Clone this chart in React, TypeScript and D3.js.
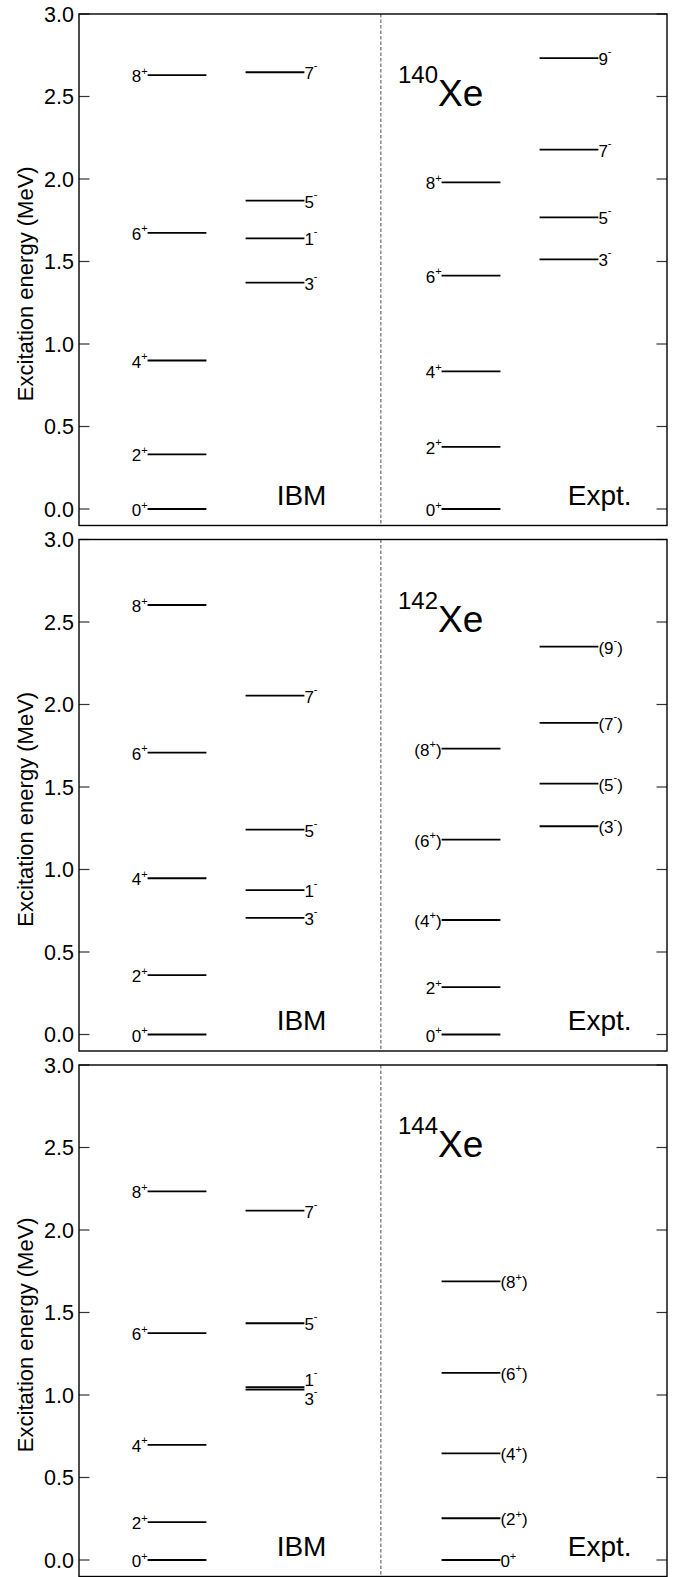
import React from "react";
import * as d3 from "d3";

const W = 678;
const H = 1577;

// ---------- data ----------
const massNumbers = ["140", "142", "144"];

const ibmPosSpins = ["0", "2", "4", "6", "8"];
const ibmNegSpins = ["1", "3", "5", "7"];
const expPosSpins = ["0", "2", "4", "6", "8"];
const expNegSpins = ["3", "5", "7", "9"];

// 140Xe
const ibmPosE140 = [0, 0.331, 0.9, 1.674, 2.629];
const ibmNegE140 = [1.64, 1.372, 1.869, 2.647];
const expPosE140 = [0, 0.377, 0.834, 1.414, 1.979];
const expNegE140 = [1.513, 1.767, 2.178, 2.732];
const expPosTent140 = [false, false, false, false, false];
const expNegTent140 = [false, false, false, false];

// 142Xe
const ibmPosE142 = [0, 0.36, 0.947, 1.708, 2.603];
const ibmNegE142 = [0.875, 0.707, 1.242, 2.054];
const expPosE142 = [0, 0.287, 0.694, 1.181, 1.732];
const expNegE142 = [1.262, 1.52, 1.889, 2.351];
const expPosTent142 = [false, false, true, true, true];
const expNegTent142 = [true, true, true, true];

// 144Xe
const ibmPosE144 = [0, 0.23, 0.698, 1.375, 2.234];
const ibmNegE144 = [1.047, 1.033, 1.435, 2.117];
const expPosE144 = [0, 0.253, 0.646, 1.134, 1.689];
const expNegE144: number[] = [];
const expPosTent144 = [false, true, true, true, true];
const expNegTent144: boolean[] = [];

const yTicks = [0, 0.5, 1.0, 1.5, 2.0, 2.5, 3.0];

type Level = { e: number; spin: string; parity: string; tent: boolean };

function build(es: number[], spins: string[], parity: string, tent?: boolean[]): Level[] {
  return es.map((e, i) => ({ e, spin: spins[i], parity, tent: tent ? tent[i] : false }));
}

const panels = [
  {
    mass: massNumbers[0],
    ibmPos: build(ibmPosE140, ibmPosSpins, "+"),
    ibmNeg: build(ibmNegE140, ibmNegSpins, "-"),
    expPos: build(expPosE140, expPosSpins, "+", expPosTent140),
    expNeg: build(expNegE140, expNegSpins, "-", expNegTent140),
    expPosRight: false,
  },
  {
    mass: massNumbers[1],
    ibmPos: build(ibmPosE142, ibmPosSpins, "+"),
    ibmNeg: build(ibmNegE142, ibmNegSpins, "-"),
    expPos: build(expPosE142, expPosSpins, "+", expPosTent142),
    expNeg: build(expNegE142, expNegSpins, "-", expNegTent142),
    expPosRight: false,
  },
  {
    mass: massNumbers[2],
    ibmPos: build(ibmPosE144, ibmPosSpins, "+"),
    ibmNeg: build(ibmNegE144, ibmNegSpins, "-"),
    expPos: build(expPosE144, expPosSpins, "+", expPosTent144),
    expNeg: build(expNegE144, expNegSpins, "-", expNegTent144),
    expPosRight: true,
  },
];

// ---------- layout ----------
const FONT = "'Liberation Sans', Arial, Helvetica, sans-serif";
const left = 79;
const right = 667;
const panelH = 511.5;
const panelPitch = 525.5;
const firstTop = 14;
const x = d3.scaleLinear().domain([0, 6]).range([left, right]);
const halfW = 0.3;

function LevelLabel({ lx, ly, anchor, lv, shift = 0 }: { lx: number; ly: number; anchor: string; lv: Level; shift?: number }) {
  const supDy = lv.parity === "+" ? -7.5 : -10;
  return (
    <text x={lx} y={ly + 7 + shift} textAnchor={anchor} fontSize={17} fontFamily={FONT} fill="#000">
      {lv.tent ? "(" : ""}
      {lv.spin}
      <tspan fontSize={11} dy={supDy}>{lv.parity}</tspan>
      {lv.tent ? <tspan dy={-supDy}>)</tspan> : null}
    </text>
  );
}

function Panel({ p, idx }: { p: (typeof panels)[number]; idx: number }) {
  const top = firstTop + idx * panelPitch;
  const y = d3.scaleLinear().domain([-0.1, 3.0]).range([top + panelH, top]);
  const fmt = d3.format(".1f");

  const cols: { levels: Level[]; cx: number; side: "left" | "right" }[] = [
    { levels: p.ibmPos, cx: 1, side: "left" },
    { levels: p.ibmNeg, cx: 2, side: "right" },
    { levels: p.expPos, cx: 4, side: p.expPosRight ? "right" : "left" },
    { levels: p.expNeg, cx: 5, side: "right" },
  ];

  return (
    <g>
      {/* dashed separator */}
      <line x1={x(3.08)} x2={x(3.08)} y1={top} y2={top + panelH} stroke="#777" strokeWidth={1.3} strokeDasharray="3.5,2" />
      {/* ticks */}
      {yTicks.map((t) => (
        <g key={t}>
          <line x1={left} x2={left + 10.5} y1={y(t)} y2={y(t)} stroke="#333" strokeWidth={1.2} />
          <line x1={right - 10.5} x2={right} y1={y(t)} y2={y(t)} stroke="#333" strokeWidth={1.2} />
          <text x={left - 5} y={y(t)} dy="0.36em" textAnchor="end" fontSize={21.5} fontFamily={FONT} fill="#000">
            {fmt(t)}
          </text>
        </g>
      ))}
      {/* frame */}
      <rect x={left} y={top} width={right - left} height={panelH} fill="none" stroke="#000" strokeWidth={1.4} />
      {/* axis title */}
      <text
        transform={`translate(33, ${top + panelH / 2 + 14}) rotate(-90)`}
        textAnchor="middle"
        fontSize={22}
        fontFamily={FONT}
        fill="#000"
      >
        Excitation energy (MeV)
      </text>
      {/* levels */}
      {cols.map((c, ci) =>
        c.levels.map((lv, li) => {
          const x1 = x(c.cx - halfW);
          const x2 = x(c.cx + halfW);
          const ly = y(lv.e);
          // separate labels of nearly degenerate levels
          let shift = 0;
          const other = c.levels.find((o, oi) => oi !== li && Math.abs(o.e - lv.e) < 0.06);
          if (other) shift = lv.e > other.e ? -8 : 8;
          return (
            <g key={`${ci}-${li}`}>
              <line x1={x1} x2={x2} y1={ly} y2={ly} stroke="#000" strokeWidth={1.8} />
              <LevelLabel
                lx={c.side === "left" ? x1 : x2}
                ly={ly}
                anchor={c.side === "left" ? "end" : "start"}
                lv={lv}
                shift={shift}
              />
            </g>
          );
        })
      )}
      {/* nucleus title */}
      <text x={x(3.255)} y={top + 92 - 23} fontFamily={FONT} fill="#000">
        <tspan fontSize={24}>{p.mass}</tspan>
        <tspan fontSize={37} dy={23}>Xe</tspan>
      </text>
      {/* column labels */}
      <text x={x(2.017)} y={y(0) - 4.5} fontSize={28} fontFamily={FONT} fill="#000">
        IBM
      </text>
      <text x={x(4.987)} y={y(0) - 4.5} fontSize={28} fontFamily={FONT} fill="#000">
        Expt.
      </text>
    </g>
  );
}

export default function App() {
  return (
    <svg
      width={W}
      height={H}
      viewBox={`0 0 ${W} ${H}`}
      style={{ position: "absolute", left: 0, top: 0, background: "#fff" }}
    >
      <rect x={0} y={0} width={W} height={H} fill="#fff" />
      {panels.map((p, i) => (
        <Panel key={p.mass} p={p} idx={i} />
      ))}
    </svg>
  );
}
